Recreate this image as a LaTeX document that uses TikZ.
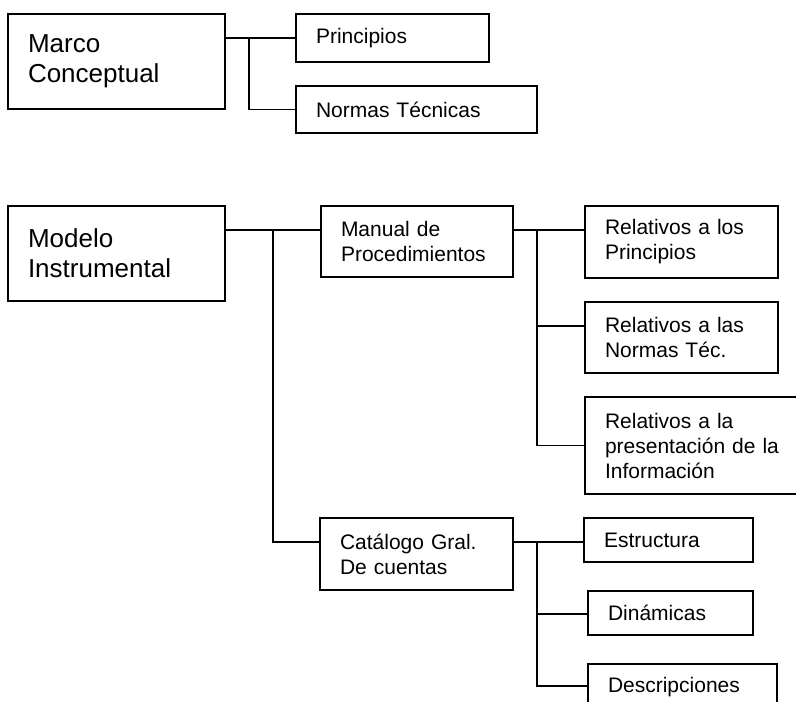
\documentclass[tikz,border=0pt]{standalone}
\usepackage{fontspec}
\setmainfont{Liberation Sans}
\usetikzlibrary{positioning, calc}

\begin{document}
\begin{tikzpicture}[x=1pt, y=-1pt,
    bigbox/.style={draw, line width=1.8pt, outer sep=0pt, anchor=north west, align=left, inner xsep=20pt, inner ysep=0pt, font=\fontsize{26}{30}\selectfont},
    smallbox/.style={draw, line width=1.8pt, outer sep=0pt, anchor=north west, align=left, inner xsep=20pt, inner ysep=0pt, font=\fontsize{21}{25}\selectfont},
    link/.style={line width=1.8pt}]
    \useasboundingbox (0, 0) rectangle (796, 702);
    \clip (0, 0) rectangle (796, 702);

    % Marco conceptual and its two parts
    \node[bigbox, text width=177pt, minimum height=95pt] (marco) at (8, 14) {Marco\\Conceptual};
    \node[smallbox, text width=153pt, minimum height=48pt] (princ) at (296, 14) {Principios};
    \node[smallbox, text width=201pt, minimum height=47pt] (normas) at (296, 86) {Normas Técnicas};

    \coordinate (marco-bus) at ($(marco.north east)+(24, 24)$);
    \draw[link] ([yshift=-24pt]marco.north east) -- (princ.west);
    \draw[link] (marco-bus) |- (normas.west);

    % Modelo instrumental
    \node[bigbox, text width=177pt, minimum height=95pt] (modelo) at (8, 206) {Modelo\\Instrumental};
    \node[smallbox, text width=152pt, minimum height=71pt] (manual) at (321, 206) {Manual de\\Procedimientos};
    \node[smallbox, text width=153pt, minimum height=72pt] (catalogo) at (320, 518) {Catálogo Gral.\\De cuentas};

    \coordinate (modelo-bus) at ($(modelo.north east)+(48, 24)$);
    \draw[link] ([yshift=-24pt]modelo.north east) -- ([yshift=-24pt]manual.north west);
    \draw[link] (modelo-bus) |- ([yshift=-24pt]catalogo.north west);

    % Manual de procedimientos
    \node[smallbox, text width=153pt, minimum height=72pt] (rel-princ) at (585, 206) {Relativos a los\\Principios};
    \node[smallbox, text width=153pt, minimum height=71pt] (rel-normas) at (585, 302) {Relativos a las\\Normas Téc.};
    \node[smallbox, text width=180pt, minimum height=97pt] (rel-info) at (585, 397) {Relativos a la\\presentación de la\\Información};

    \coordinate (manual-bus) at ($(manual.north east)+(24, 24)$);
    \draw[link] ([yshift=-24pt]manual.north east) -- ([yshift=-24pt]rel-princ.north west);
    \draw[link] (manual-bus) |- ([yshift=-24pt]rel-normas.north west);
    \draw[link] (manual-bus) |- (rel-info.west);

    % Catalogo general de cuentas
    \node[smallbox, text width=129pt, minimum height=44pt] (estruct) at (584, 518) {Estructura};
    \node[smallbox, text width=125pt, minimum height=44pt] (dinam) at (588, 591) {Dinámicas};
    \node[smallbox, text width=149pt, minimum height=46pt] (descr) at (588, 664) {Descripciones};

    \coordinate (catalogo-bus) at ($(catalogo.north east)+(24, 24)$);
    \draw[link] ([yshift=-24pt]catalogo.north east) -- ([yshift=-24pt]estruct.north west);
    \draw[link] (catalogo-bus) |- ([yshift=-23pt]dinam.north west);
    \draw[link] (catalogo-bus) |- ([yshift=-22pt]descr.north west);
\end{tikzpicture}
\end{document}
